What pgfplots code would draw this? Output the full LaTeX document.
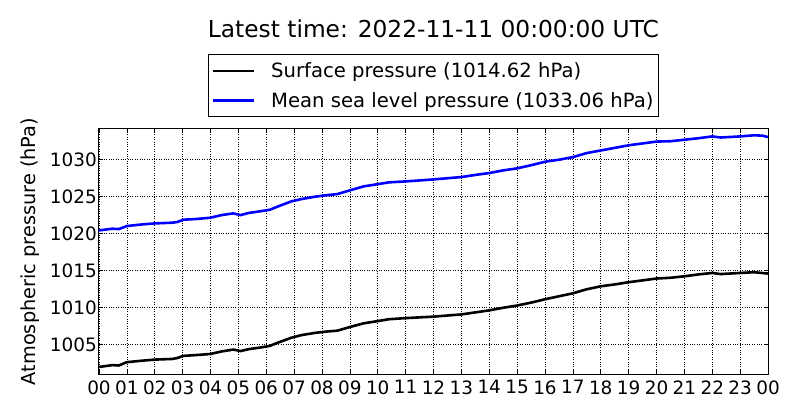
\documentclass[border=0pt]{standalone}
\usepackage{pgfplots}
\pgfplotsset{compat=1.18}
\usepackage{fontspec}
\setmainfont{DejaVu Sans}
\begin{document}
\begin{tikzpicture}
\path[use as bounding box] (-99bp,-46bp) rectangle (701bp,374bp);
\begin{axis}[
  at={(0bp,0bp)}, anchor=south west,
  scale only axis, width=669bp, height=245bp,
  xmin=0, xmax=24, ymin=1001.05, ymax=1034.15,
  xtick={0,...,24},
  xticklabels={00,01,02,03,04,05,06,07,08,09,10,11,12,13,14,15,16,17,18,19,20,21,22,23,00},
  ytick={1005,1010,1015,1020,1025,1030},
  /pgf/number format/assume math mode=true,
  /pgf/number format/1000 sep={},
  tick label style={font=\fontsize{18.5}{22}\selectfont},
  xticklabel style={inner xsep=0pt, yshift=-3bp},
  yticklabel style={inner xsep=2bp},
  tick align=inside, major tick length=4bp,
  tick style={black, line width=0.6bp},
  grid=major,
  major grid style={black, dotted, line width=0.6bp},
  axis line style={black, line width=1bp},
  ylabel={Atmospheric pressure (hPa)},
  ylabel style={font=\fontsize{19.4}{23}\selectfont, yshift=5bp},
  title={Latest time: 2022-11-11 00:00:00 UTC},
  title style={at={(0.5,1)}, anchor=base, yshift=86bp, font=\fontsize{23.4}{27}\selectfont},
  legend style={at={(0.5,1)}, yshift=12bp, anchor=south, draw=black, line width=0.8bp,
    font=\fontsize{19.7}{23}\selectfont, inner xsep=3bp, inner ysep=6bp,
    row sep=9bp, column sep=14bp, nodes={inner sep=2bp}},
  legend cell align=left,
  legend image code/.code={\draw[#1, line width=2.6bp] (0bp,0bp) -- (41bp,0bp);},
]
\addplot[black, line width=2.6bp] coordinates {
(0,1002.0) (0.48,1002.25) (0.71,1002.2) (1,1002.65) (1.55,1002.85) (2.02,1003.0)
(2.62,1003.08) (2.8,1003.2) (3.04,1003.5) (3.45,1003.6) (3.99,1003.75) (4.4,1004.1)
(4.82,1004.35) (5.08,1004.15) (5.36,1004.4) (5.83,1004.65) (6.13,1004.85) (6.43,1005.3)
(6.9,1005.95) (7.26,1006.3) (7.74,1006.6) (8.2,1006.8) (8.55,1006.9) (9,1007.4)
(9.5,1007.9) (10,1008.2) (10.4,1008.45) (11,1008.6) (11.5,1008.7) (12,1008.8)
(13,1009.1) (13.55,1009.4) (14,1009.65) (14.5,1010.0) (15,1010.3) (15.57,1010.75)
(16,1011.15) (16.5,1011.55) (17,1011.95) (17.5,1012.5) (18,1012.9)
(18.5,1013.15) (19,1013.45) (19.5,1013.7) (20,1013.95) (20.5,1014.05) (21,1014.25)
(21.5,1014.5) (22,1014.7) (22.3,1014.55) (23,1014.7) (23.5,1014.8) (24,1014.62)
};
\addlegendentry{Surface pressure (1014.62 hPa)}
\addplot[blue, line width=2.6bp] coordinates {
(0,1020.45) (0.48,1020.68) (0.71,1020.63) (1,1021.04) (1.55,1021.26) (2.02,1021.4)
(2.62,1021.49) (2.8,1021.58) (3.04,1021.9) (3.45,1021.98) (3.99,1022.16) (4.4,1022.52)
(4.82,1022.75) (5.08,1022.52) (5.36,1022.8) (5.83,1023.06) (6.13,1023.24) (6.43,1023.7)
(6.9,1024.37) (7.26,1024.68) (7.74,1025.0) (8.2,1025.22) (8.55,1025.36) (9,1025.86)
(9.5,1026.4) (10,1026.7) (10.4,1026.94) (11,1027.07) (11.5,1027.2) (12,1027.34)
(13,1027.66) (13.55,1027.97) (14,1028.2) (14.5,1028.56) (15,1028.83) (15.57,1029.32)
(16,1029.73) (16.5,1030.0) (17,1030.35) (17.5,1030.9) (18,1031.25)
(18.5,1031.6) (19,1031.95) (19.5,1032.2) (20,1032.45) (20.5,1032.5) (21,1032.7)
(21.5,1032.9) (22,1033.15) (22.3,1033.0) (23,1033.15) (23.5,1033.3) (23.8,1033.25) (24,1033.06)
};
\addlegendentry{Mean sea level pressure (1033.06 hPa)}
\end{axis}
\end{tikzpicture}
\end{document}
